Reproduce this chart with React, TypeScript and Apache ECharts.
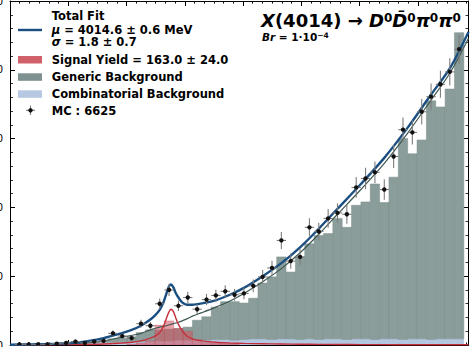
import React, { useEffect, useRef } from "react";
import * as echarts from "echarts";

// ---------- data ----------
const binCenter = [
  3982, 3984, 3986, 3988, 3990, 3992, 3994, 3996, 3998, 4000,
  4002, 4004, 4006, 4008, 4010, 4012, 4014, 4016, 4018, 4020,
  4022, 4024, 4026, 4028, 4030, 4032, 4034, 4036, 4038, 4040,
  4042, 4044, 4046, 4048, 4050, 4052, 4054, 4056, 4058, 4060,
  4062, 4064, 4066, 4068, 4070, 4072, 4074, 4076,
];
const mcCounts = [
  1, 1, 1, 1, 2, 3, 5, 3, 5, 6,
  17, 13, 10, 31, 28, 60, 80, 57, 69, 52,
  66, 72, 78, 73, 75, 86, 99, 112, 152, 122,
  128, 171, 165, 184, 192, 190, 229, 242, 251, 226,
  274, 313, 309, 339, 361, 379, 397, 430,
];
const combBkg = [
  0.5, 0.5, 1, 1, 1.5, 2, 2.5, 3, 3.5, 4,
  4, 5, 5, 5, 6, 6, 6, 7, 7, 8,
  7, 8, 8, 7, 8, 9, 9, 8, 9, 9,
  8, 9, 8, 9, 9, 8, 9, 9, 8, 9,
  9, 8, 9, 9, 8, 9, 9, 9,
];
const genericBkg = [
  0.5, 0.5, 0, 0.5, 0.5, 1, 1.5, 1, 1.5, 3,
  5, 5, 7, 13, 16, 16, 17, 17, 19, 28,
  34, 47, 55, 56, 53, 59, 81, 91, 119, 97,
  120, 138, 151, 153, 175, 163, 194, 199, 226, 198,
  235, 292, 269, 289, 347, 337, 363, 445,
];
const signalMC = [
  0, 0, 0, 0, 0, 0, 0, 0, 0, 0,
  0, 0, 1, 3, 6, 29, 35, 24, 20, 8,
  4, 3, 2, 1, 0, 0, 0, 0, 0, 0,
  0, 0, 0, 0, 0, 0, 0, 0, 0, 0,
  0, 0, 0, 0, 0, 0, 0, 0,
];
const fitMass = [
  3980, 3985, 3990, 3995, 4000, 4003, 4006, 4008, 4010, 4011,
  4012, 4012.8, 4013.4, 4013.9, 4014.4, 4014.9, 4015.4, 4016, 4016.8, 4017.8,
  4019, 4021, 4024, 4027, 4030, 4034, 4038, 4042, 4046, 4050,
  4055, 4060, 4065, 4070, 4074, 4078,
];
const totalFit = [
  0.3, 1, 2, 4, 10, 15.5, 22, 28, 37, 43,
  51, 62, 74, 84, 88, 84, 76, 69, 62, 58.5,
  58.5, 60.5, 65, 73, 83, 100, 119, 142, 169, 198,
  234, 272, 316, 364, 402, 455,
];
const signalFit = [
  0.2, 0.3, 0.5, 0.8, 1.5, 2.5, 4, 6, 10, 13,
  18, 27, 38, 47, 52, 49, 40, 30, 21, 13,
  9, 6, 4, 3, 2.3, 1.8, 1.4, 1.1, 0.9, 0.8,
  0.6, 0.5, 0.4, 0.35, 0.3, 0.3,
];
const bkgFit = [
  0, 0.5, 1.2, 2.5, 6, 10, 14, 17, 22, 24,
  26, 27, 28, 29, 30, 31, 32, 33, 35, 38,
  42, 47, 55, 64, 75, 92, 111, 134, 161, 190,
  226, 264, 308, 356, 395, 446,
];
const yTicks = { min: 0, max: 500, step: 100 };

const FONT = "DejaVu Sans";
const BLUE = "#1b4f82";

export default function App() {
  const ref = useRef<HTMLDivElement>(null);
  useEffect(() => {
    if (!ref.current) return;
    const chart = echarts.init(ref.current, null, { renderer: "svg" });
    const half = 1; // half of a 2 MeV bin

    const combData = binCenter.map((c, i) => [c, 0, combBkg[i]]);
    const genData = binCenter.map((c, i) => [c, combBkg[i], combBkg[i] + genericBkg[i]]);
    const sigData = binCenter.map((c, i) => [c, 0, signalMC[i]]);
    const ptsData = binCenter.map((c, i) => [c, mcCounts[i], Math.sqrt(mcCounts[i])]);

    const barItem = (fill: string, stroke: string, opacity: number) => (params: any, api: any) => {
      const x = api.value(0), lo = api.value(1), hi = api.value(2);
      if (!(hi > lo)) return null;
      const p0 = api.coord([x - half, lo]);
      const p1 = api.coord([x + half, hi]);
      return {
        type: "rect",
        shape: { x: p0[0], y: p1[1], width: p1[0] - p0[0], height: p0[1] - p1[1] },
        style: { fill, stroke, lineWidth: 0.5, opacity },
      };
    };

    const gridRect = { left: 10, right: 5.5, top: 1, bottom: 2, containLabel: false, outerBoundsMode: "none" };
    const tickAxis = (gridIndex: number, position: string, interval: number, length: number, line: boolean) => ({
      type: "value",
      gridIndex,
      position,
      min: 0.34,
      max: 47.56,
      interval,
      axisLine: { show: line, onZero: false, lineStyle: { color: "#000", width: 1 } },
      axisTick: { show: true, inside: true, length, lineStyle: { color: "#000", width: 1 } },
      axisLabel: { show: false },
      splitLine: { show: false },
    });
    const yAx = (position: string, labels: boolean) => ({
      type: "value",
      gridIndex: 0,
      position,
      min: yTicks.min,
      max: yTicks.max,
      interval: yTicks.step,
      axisLine: { show: true, lineStyle: { color: "#000", width: 1 } },
      axisTick: { show: true, inside: true, length: 5, lineStyle: { color: "#000", width: 1 } },
      minorTick: { show: true, splitNumber: 5, length: 3, lineStyle: { color: "#000", width: 0.8 } },
      axisLabel: { show: labels, margin: 7, fontSize: 10, color: "#000", fontFamily: FONT },
      splitLine: { show: false },
    });

    const legendText = (y: number, text: string, rich?: any) => ({
      type: "text",
      x: 51.7,
      y,
      z: 100,
      style: {
        text,
        fill: "#000",
        fontSize: 11.5,
        fontWeight: "bold",
        fontFamily: FONT,
        verticalAlign: "middle",
        rich,
      },
    });
    const italicRich = {
      i: { fontSize: 11.5, fontWeight: "bold", fontStyle: "italic", fontFamily: FONT, fill: "#000" },
      b: { fontSize: 11.5, fontWeight: "bold", fontFamily: FONT, fill: "#000" },
    };
    const patch = (y: number, fill: string) => ({
      type: "rect",
      z: 100,
      shape: { x: 18, y, width: 24, height: 7.5 },
      style: { fill },
    });

    const titleRich = {
      i: { fontSize: 18, lineHeight: 18, fontWeight: "bold", fontStyle: "italic", fontFamily: FONT, fill: "#000" },
      b: { fontSize: 18, lineHeight: 18, fontWeight: "bold", fontFamily: FONT, fill: "#000" },
      s: { fontSize: 12, lineHeight: 12, fontWeight: "bold", fontFamily: FONT, fill: "#000", verticalAlign: "top" },
      bi: { fontSize: 10.5, lineHeight: 10, fontWeight: "bold", fontStyle: "italic", fontFamily: FONT, fill: "#000" },
      bb: { fontSize: 10.5, lineHeight: 10, fontWeight: "bold", fontFamily: FONT, fill: "#000" },
      bs: { fontSize: 7.5, lineHeight: 7.5, fontWeight: "bold", fontFamily: FONT, fill: "#000", verticalAlign: "top" },
    };

    chart.setOption({
      animation: false,
      backgroundColor: "#fff",
      grid: [gridRect, gridRect, gridRect],
      xAxis: [
        { type: "value", gridIndex: 0, position: "bottom", min: 3980, max: 4078, show: false },
        tickAxis(1, "bottom", 1, 2.5, true),
        tickAxis(1, "top", 1, 2.5, true),
        tickAxis(2, "bottom", 6, 5, false),
        tickAxis(2, "top", 6, 5, false),
      ],
      yAxis: [
        yAx("left", true),
        yAx("right", false),
        { type: "value", gridIndex: 1, min: 0, max: 1, show: false },
        { type: "value", gridIndex: 2, min: 0, max: 1, show: false },
      ],
      series: [
        {
          type: "custom",
          name: "Combinatorial Background",
          xAxisIndex: 0,
          yAxisIndex: 0,
          z: 1,
          clip: true,
          renderItem: barItem("#b4c7e1", "#b4c7e1", 1),
          data: combData,
        },
        {
          type: "custom",
          name: "Generic Background",
          xAxisIndex: 0,
          yAxisIndex: 0,
          z: 1,
          clip: true,
          renderItem: barItem("#8a9d9a", "#7a8e8b", 1),
          data: genData,
        },
        {
          type: "custom",
          name: "Signal",
          xAxisIndex: 0,
          yAxisIndex: 0,
          z: 2,
          clip: true,
          renderItem: barItem("#d4505c", "#c04450", 0.55),
          data: sigData,
        },
        {
          type: "line",
          name: "bkg fit",
          xAxisIndex: 0,
          yAxisIndex: 0,
          z: 3,
          showSymbol: false,
          smooth: 0.3,
          clip: true,
          lineStyle: { color: "#3e5752", width: 1.2 },
          data: fitMass.map((m, i) => [m, bkgFit[i]]),
        },
        {
          type: "line",
          name: "signal fit",
          xAxisIndex: 0,
          yAxisIndex: 0,
          z: 3,
          showSymbol: false,
          smooth: 0.3,
          clip: true,
          lineStyle: { color: "#c42f3a", width: 1.4 },
          data: fitMass.map((m, i) => [m, signalFit[i]]),
        },
        {
          type: "line",
          name: "Total Fit",
          xAxisIndex: 0,
          yAxisIndex: 0,
          z: 4,
          showSymbol: false,
          smooth: 0.3,
          clip: true,
          lineStyle: { color: BLUE, width: 2.4 },
          data: fitMass.map((m, i) => [m, totalFit[i]]),
        },
        {
          type: "custom",
          name: "MC",
          xAxisIndex: 0,
          yAxisIndex: 0,
          z: 5,
          clip: true,
          renderItem: (params: any, api: any) => {
            const x = api.value(0), y = api.value(1), e = api.value(2);
            const t = api.coord([x, y + e]);
            const b = api.coord([x, y - e]);
            const l = api.coord([x - half, y]);
            const r = api.coord([x + half, y]);
            const c = api.coord([x, y]);
            const ls = { stroke: "#7d7d7d", lineWidth: 1.1 };
            return {
              type: "group",
              children: [
                { type: "line", shape: { x1: t[0], y1: t[1], x2: b[0], y2: b[1] }, style: ls },
                { type: "line", shape: { x1: l[0], y1: l[1], x2: r[0], y2: r[1] }, style: ls },
                { type: "circle", shape: { cx: c[0], cy: c[1], r: 2.2 }, style: { fill: "#111" } },
              ],
            };
          },
          data: ptsData,
        },
      ],
      graphic: {
        elements: [
          { type: "line", z: 100, shape: { x1: 18, y1: 30, x2: 42, y2: 30 }, style: { stroke: BLUE, lineWidth: 2.4 } },
          legendText(16, "Total Fit"),
          legendText(29.5, "{i|μ}{b| = 4014.6 ± 0.6 MeV}", italicRich),
          legendText(42, "{i|σ}{b| = 1.8 ± 0.7}", italicRich),
          patch(56, "#d0606a"),
          legendText(59.5, "Signal Yield = 163.0 ± 24.0"),
          patch(73.3, "#7d9290"),
          legendText(77, "Generic Background"),
          patch(90.3, "#b7c9e2"),
          legendText(94, "Combinatorial Background"),
          { type: "line", z: 100, shape: { x1: 30.5, y1: 105.5, x2: 30.5, y2: 115 }, style: { stroke: "#7d7d7d", lineWidth: 1.1 } },
          { type: "line", z: 100, shape: { x1: 26, y1: 110.3, x2: 35, y2: 110.3 }, style: { stroke: "#7d7d7d", lineWidth: 1.1 } },
          { type: "circle", z: 100, shape: { cx: 30.5, cy: 110.3, r: 2.2 }, style: { fill: "#111" } },
          legendText(110.5, "MC : 6625"),
          {
            type: "text",
            x: 261,
            y: 20.5,
            z: 100,
            style: {
              text: "{i|X}{b|(4014) → }{i|D}{s|0}{i|D\u0304}{s|0}{i|π}{s|0}{i|π}{s|0}",
              rich: titleRich,
              verticalAlign: "middle",
            },
          },
          {
            type: "text",
            x: 262,
            y: 36.5,
            z: 100,
            style: {
              text: "{bi|Br}{bb| = 1·10}{bs|−4}",
              rich: titleRich,
              verticalAlign: "middle",
            },
          },
        ],
      },
    });
    return () => chart.dispose();
  }, []);
  return <div ref={ref} style={{ position: "fixed", left: 0, top: 0, width: 474, height: 347 }} />;
}
